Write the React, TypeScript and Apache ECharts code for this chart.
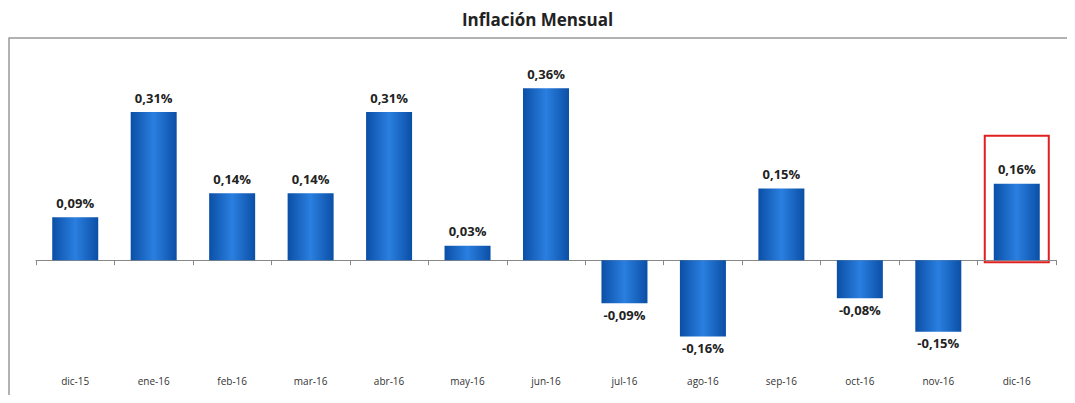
import React, { useRef, useEffect } from 'react';
import * as echarts from 'echarts';

const categories = ['dic-15', 'ene-16', 'feb-16', 'mar-16', 'abr-16', 'may-16', 'jun-16', 'jul-16', 'ago-16', 'sep-16', 'oct-16', 'nov-16', 'dic-16'];
const values = [0.09, 0.31, 0.14, 0.14, 0.31, 0.03, 0.36, -0.09, -0.16, 0.15, -0.08, -0.15, 0.16];
const highlightIndex = 12;

const fmt = (v: number) => v.toFixed(2).replace('.', ',') + '%';

const App: React.FC = () => {
  const chartRef = useRef<HTMLDivElement>(null);

  useEffect(() => {
    const chart = echarts.init(chartRef.current, null, { renderer: 'svg' });
    const barColor = new echarts.graphic.LinearGradient(0, 0, 1, 0, [
      { offset: 0, color: '#0b4fa6' },
      { offset: 0.5, color: '#2a7fe0' },
      { offset: 1, color: '#0b4fa6' }
    ]);
    chart.setOption({
      animation: false,
      title: {
        text: 'Inflación Mensual',
        left: 'center',
        top: 6,
        textStyle: { fontFamily: 'Open Sans', fontWeight: 'bold', fontSize: 17, color: '#222' }
      },
      grid: { left: 36, right: 19, top: 50, bottom: 33 },
      xAxis: [
        {
          type: 'category',
          data: categories,
          axisLine: { onZero: true, lineStyle: { color: '#888' } },
          axisTick: { show: true, lineStyle: { color: '#888' } },
          axisLabel: { show: false }
        },
        {
          type: 'category',
          data: categories,
          position: 'bottom',
          axisLine: { show: false, onZero: false },
          axisTick: { show: false },
          axisLabel: { fontFamily: 'Open Sans', fontSize: 10, color: '#333', margin: 6 }
        }
      ],
      yAxis: { type: 'value', min: -0.23, max: 0.44, show: false, splitLine: { show: false } },
      series: [
        {
          type: 'bar',
          barWidth: 46,
          data: values.map((v) => ({
            value: v,
            label: { position: v >= 0 ? 'top' : 'bottom', distance: v >= 0 ? 8 : 5 }
          })),
          itemStyle: { color: barColor },
          label: {
            show: true,
            formatter: (p: any) => fmt(p.value),
            fontFamily: 'Open Sans',
            fontWeight: 'bold',
            fontSize: 13,
            color: '#222'
          }
        }
      ]
    });
    const [cx, topY] = chart.convertToPixel({ xAxisIndex: 0, yAxisIndex: 0 }, [highlightIndex, values[highlightIndex]]);
    const zeroY = chart.convertToPixel({ yAxisIndex: 0 }, 0) as number;
    chart.setOption({
      graphic: [
        {
          type: 'polyline',
          shape: { points: [[9, 403], [9, 38], [1075, 38]] },
          style: { stroke: '#999', lineWidth: 1.5, fill: 'none' },
          silent: true
        },
        {
          type: 'rect',
          shape: { x: cx - 32, y: topY - 48, width: 64, height: zeroY - topY + 50 },
          style: { fill: 'none', stroke: '#e02020', lineWidth: 2 },
          silent: true
        }
      ]
    });
    return () => chart.dispose();
  }, []);

  return <div ref={chartRef} style={{ width: 1075, height: 403, margin: -8 }} />;
};

export default App;
